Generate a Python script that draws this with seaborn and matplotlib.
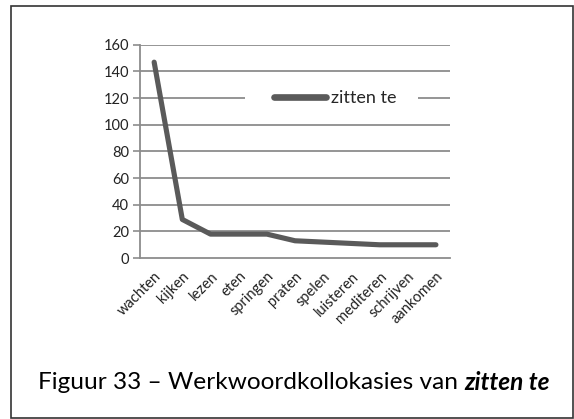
import numpy as np
import pandas as pd
import matplotlib
matplotlib.use('Agg')
import matplotlib.pyplot as plt
from matplotlib.patches import Rectangle
import seaborn as sns

# data
verbs = ['wachten', 'kijken', 'lezen', 'eten', 'springen', 'praten',
         'spelen', 'luisteren', 'mediteren', 'schrijven', 'aankomen']
counts = [147, 29, 18, 18, 18, 13, 12, 11, 10, 10, 10]
series_name = 'zitten te'
y_ticks = [0, 20, 40, 60, 80, 100, 120, 140, 160]

df = pd.DataFrame({'verb': verbs, 'count': counts, 'series': series_name})
df['pos'] = np.arange(len(verbs))

sns.set_style('white')
plt.rcParams['font.family'] = ['Lato', 'DejaVu Sans']

fig = plt.figure(figsize=(5.74, 4.19), dpi=100)
ax = fig.add_axes([0.244, 0.384, 0.540, 0.509])

grid_col = '#8c8c8c'
sns.lineplot(data=df, x='pos', y='count', hue='series', palette=['#5a5a5a'],
             linewidth=3.7, ax=ax, zorder=3, solid_capstyle='round',
             solid_joinstyle='round')

ax.set_xlim(-0.5, len(verbs) - 0.5)
ax.set_ylim(0, 160)
ax.set_yticks(y_ticks)
ax.set_yticklabels([str(v) for v in y_ticks], fontsize=10.5, color='#222222')
for v in y_ticks[1:]:
    ax.axhline(v, color=grid_col, linewidth=1.3, zorder=1)

ax.set_xticks(np.arange(len(verbs)))
ax.set_xticklabels(verbs, rotation=45, ha='right', rotation_mode='anchor',
                   fontsize=10.5, color='#222222')
ax.set_xticks(np.arange(len(verbs) + 1) - 0.5, minor=True)
ax.tick_params(axis='x', which='major', length=0, pad=8)
ax.tick_params(axis='x', which='minor', length=5, width=1.2, color=grid_col,
               direction='out')
ax.tick_params(axis='y', length=5, width=1.2, color=grid_col, direction='out',
               left=True, pad=3)

for side in ['top', 'right']:
    ax.spines[side].set_visible(False)
for side in ['left', 'bottom']:
    ax.spines[side].set_color(grid_col)
    ax.spines[side].set_linewidth(1.3)

ax.set_xlabel('')
ax.set_ylabel('')

# white gap behind the legend, as in the original
ax.add_patch(Rectangle((0.339, 0.72), 0.558, 0.06, transform=ax.transAxes,
                       facecolor='white', edgecolor='none', zorder=2))

leg = ax.legend(loc='center', bbox_to_anchor=(0.629, 0.75), frameon=False,
                fontsize=13, handlelength=2.9, handletextpad=0.28,
                borderpad=0.2, borderaxespad=0)
for line in leg.get_lines():
    line.set_linewidth(4.8)
    line.set_solid_capstyle('round')
leg.set_zorder(5)

# outer border and caption
fig.patches.append(Rectangle((11 / 574, 1 / 419), 561.5 / 574, 412 / 419,
                             transform=fig.transFigure, fill=False,
                             edgecolor='#333333', linewidth=1.2))
cap_size = 17.6
renderer = fig.canvas.get_renderer()
t1 = fig.text(0, 0.088, 'Figuur 33 \u2013 Werkwoordkollokasies van ',
              fontsize=cap_size, ha='left', va='center', color='black')
t2 = fig.text(0, 0.088, 'zitten te', fontsize=cap_size, fontweight='bold',
              fontstyle='italic', ha='left', va='center', color='black')
w1 = t1.get_window_extent(renderer=renderer).width
w2 = t2.get_window_extent(renderer=renderer).width
x0 = 294 - (w1 + w2) / 2
t1.set_x(x0 / 574)
t2.set_x((x0 + w1) / 574)

plt.savefig('out.png', dpi=100)
plt.close()
